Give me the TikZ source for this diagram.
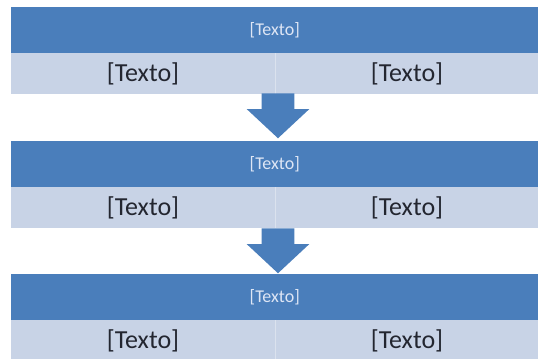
\documentclass[tikz,border=0pt]{standalone}
\usepackage{fontspec}
\setmainfont{Carlito}
\usetikzlibrary{shapes.arrows}
\definecolor{barblue}{RGB}{74,126,187}
\definecolor{cellblue}{RGB}{200,211,230}
\definecolor{celltext}{RGB}{35,38,48}
\definecolor{headtext}{RGB}{222,230,245}
\begin{document}
\begin{tikzpicture}[x=0.75pt,y=0.75pt,yscale=-1,xscale=1,
	headbar/.style={fill=barblue,text=headtext,inner sep=0pt,anchor=north west,minimum width=395.25pt,minimum height=34pt,font=\fontsize{13.5}{14}\selectfont},
	cellrow/.style={fill=cellblue,text=celltext,inner sep=0pt,anchor=north west,minimum width=197.6pt,minimum height=30.75pt,font=\fontsize{19.5}{20}\selectfont},
	divline/.style={draw=white,draw opacity=0.35,line width=0.5pt},
	downarrow/.style={single arrow,fill=barblue,inner xsep=0pt,inner ysep=12pt,rotate=-90,single arrow head extend=11.25pt,single arrow tip angle=94,minimum height=33.75pt,anchor=tail}]
	\useasboundingbox (0,0) rectangle (538,359);
	
	%Block 1
	\node [headbar] (h1) at (11,7) {[Texto]};
	\node [cellrow] (l1) at (h1.south west) {[Texto]};
	\node [cellrow] (r1) at (l1.north east) {[Texto]};
	\draw [divline] (l1.north east) -- (l1.south east);
	
	%Arrow 1
	\node [downarrow] (a1) at (278,93) {};
	
	%Block 2
	\node [headbar] (h2) at (11,141) {[Texto]};
	\node [cellrow] (l2) at (h2.south west) {[Texto]};
	\node [cellrow] (r2) at (l2.north east) {[Texto]};
	\draw [divline] (l2.north east) -- (l2.south east);
	
	%Arrow 2
	\node [downarrow] (a2) at (278,228) {};
	
	%Block 3
	\node [headbar] (h3) at (11,274) {[Texto]};
	\node [cellrow] (l3) at (h3.south west) {[Texto]};
	\node [cellrow] (r3) at (l3.north east) {[Texto]};
	\draw [divline] (l3.north east) -- (l3.south east);
	
\end{tikzpicture}
\end{document}
